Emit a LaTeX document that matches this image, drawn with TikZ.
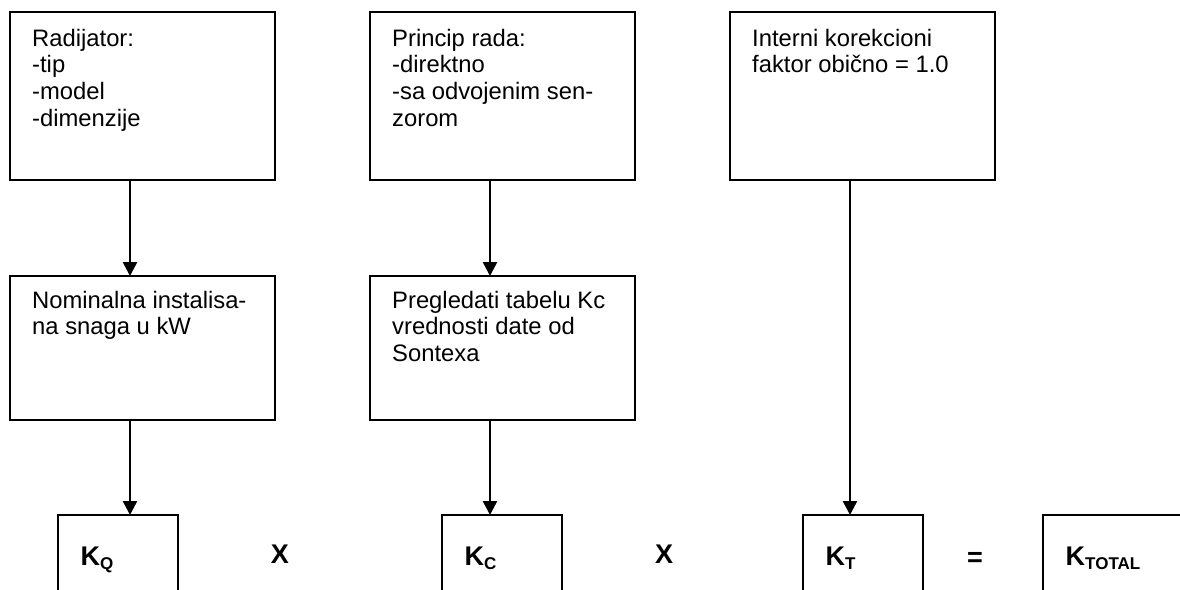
\documentclass[tikz,border=0pt]{standalone}
\usepackage{fontspec}
\setmainfont{Liberation Sans}
\usetikzlibrary{arrows.meta}
\tikzset{
  box/.style={draw, line width=1.8pt, rectangle, inner sep=0pt, outer sep=0pt, anchor=north west},
  bigbox/.style={box, minimum width=265pt, minimum height=168pt},
  midbox/.style={box, minimum width=265pt, minimum height=144pt},
  kbox/.style={box, minimum width=120pt, minimum height=110pt},
  totbox/.style={box, minimum width=170pt, minimum height=110pt},
  txt/.style={anchor=north west, inner sep=0pt, align=left, font=\fontsize{23.8}{26.8}\selectfont},
  ktxt/.style={anchor=base west, inner sep=0pt, font=\fontsize{27}{27}\selectfont\bfseries},
  optxt/.style={anchor=base, inner sep=0pt, font=\fontsize{27}{27}\selectfont\bfseries},
  arr/.style={line width=2.6pt, -{Triangle[width=14pt,length=14pt]}}
}
\newcommand{\ksub}[1]{K\raisebox{-4pt}{\fontsize{17}{17}\selectfont #1}}
\begin{document}
\begin{tikzpicture}[x=1pt,y=-1pt]
  \useasboundingbox (0,0) rectangle (1180,589);
  \clip (0,0) rectangle (1180,589);
  \fill[white] (0,0) rectangle (1180,589);
  % top row
  \node[bigbox] (r1) at (10,12) {};
  \node[bigbox] (r2) at (370,12) {};
  \node[bigbox] (r3) at (730,12) {};
  % middle row
  \node[midbox] (m1) at (10,276) {};
  \node[midbox] (m2) at (370,276) {};
  % bottom row
  \node[kbox] (kq) at (58,515) {};
  \node[kbox] (kc) at (442,515) {};
  \node[kbox] (kt) at (803,515) {};
  \node[totbox] (ktot) at (1043,515) {};
  % texts
  \node[txt] (t1) at ([shift={(22pt,-15.2pt)}]r1.north west) {\strut Radijator:\\-tip\\-model\\-dimenzije};
  \node[txt] (t2) at ([shift={(22pt,-15.2pt)}]r2.north west) {\strut Princip rada:\\-direktno\\-sa odvojenim sen-\\zorom};
  \node[txt] (t3) at ([shift={(22pt,-15.2pt)}]r3.north west) {\strut Interni korekcioni\\faktor obi\v{c}no = 1.0};
  \node[txt] (t4) at ([shift={(22pt,-13.2pt)}]m1.north west) {\strut Nominalna instalisa-\\na snaga u kW};
  \node[txt] (t5) at ([shift={(22pt,-13.2pt)}]m2.north west) {\strut Pregledati tabelu Kc\\vrednosti date od\\Sontexa};
  \node[ktxt] (lq) at ([shift={(22.5pt,-50pt)}]kq.north west) {\ksub{Q}};
  \node[ktxt] (lc) at ([shift={(22.5pt,-50pt)}]kc.north west) {\ksub{C}};
  \node[ktxt] (lt) at ([shift={(22.5pt,-50pt)}]kt.north west) {\ksub{T}};
  \node[ktxt] (ltot) at ([shift={(22.5pt,-50pt)}]ktot.north west) {\ksub{TOTAL}};
  \node[optxt] (x1) at (280,563) {X};
  \node[optxt] (x2) at (664,563) {X};
  \node[optxt] (eq) at (975,566) {=};
  % arrows
  \draw[arr] ([xshift=-12.5pt]r1.south) -- ([xshift=-12.5pt]r1.south |- m1.north);
  \draw[arr] ([xshift=-12.5pt]r2.south) -- ([xshift=-12.5pt]r2.south |- m2.north);
  \draw[arr] ([xshift=-12.5pt]m1.south) -- ([xshift=-12.5pt]m1.south |- kq.north);
  \draw[arr] ([xshift=-12.5pt]m2.south) -- ([xshift=-12.5pt]m2.south |- kc.north);
  \draw[arr] ([xshift=-12.5pt]r3.south) -- ([xshift=-12.5pt]r3.south |- kt.north);
\end{tikzpicture}
\end{document}
